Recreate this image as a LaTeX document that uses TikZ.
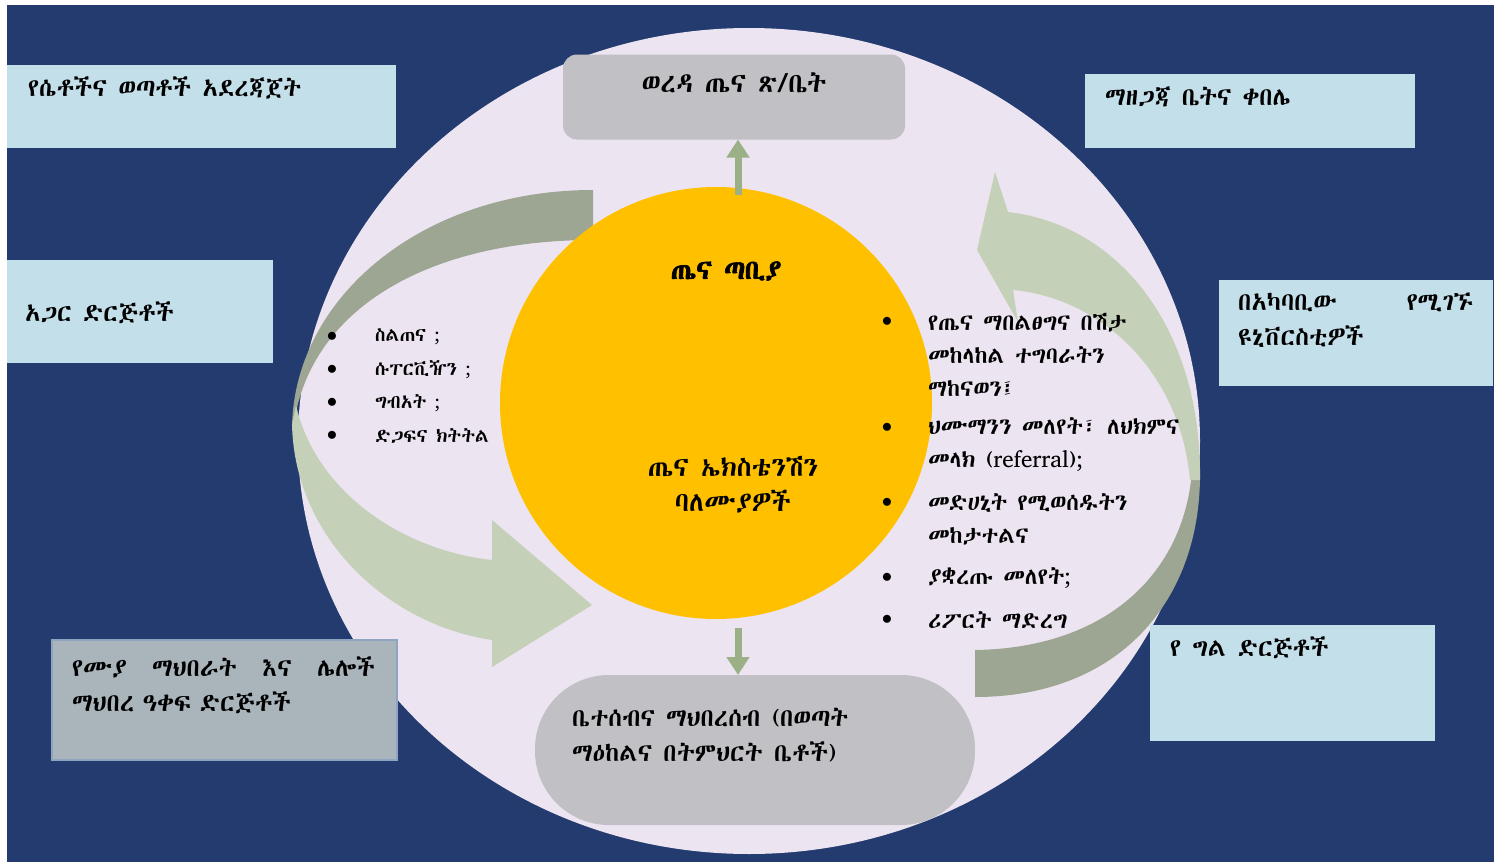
\documentclass[tikz,border=0pt]{standalone}
\usepackage{fontspec}
\IfFontExistsTF{Abyssinica SIL}{\setmainfont[AutoFakeBold=2.5]{Abyssinica SIL}}{%
  \IfFontExistsTF{FreeSerif}{\setmainfont[AutoFakeBold=2.5]{FreeSerif}}{%
    \IfFontExistsTF{Noto Sans Ethiopic}{\setmainfont[AutoFakeBold=2.5]{Noto Sans Ethiopic}}{\setmainfont{DejaVu Sans}}}}
\usetikzlibrary{
    positioning,
    arrows.meta
}
\definecolor{navy}{HTML}{233B6E}
\definecolor{lavender}{HTML}{ECE4F1}
\definecolor{amber}{HTML}{FFC000}
\definecolor{stone}{HTML}{C1C0C5}
\definecolor{skyblue}{HTML}{C3DFE9}
\definecolor{slate}{HTML}{A9B4BB}
\definecolor{slateline}{HTML}{8EA4C0}
\definecolor{sage}{HTML}{C4D0B7}
\definecolor{darksage}{HTML}{9DA692}
\definecolor{linkgreen}{HTML}{9CB088}
\tikzset{%
    info box/.style={%
        rectangle,
        fill=skyblue,
        inner sep = 0pt,
        outer sep = 0pt,
        anchor=north west
    },
    office/.style={%
        rectangle,
        fill=stone,
        rounded corners=14pt,
        inner sep = 0pt,
        outer sep = 0pt,
        minimum width=342pt,
        minimum height=85pt
    },
    box text/.style={%
        font=\fontsize{25}{35}\selectfont,
        align=left,
        inner sep = 0pt,
        anchor=west
    },
    item text/.style={%
        font=\fontsize{23}{33}\selectfont,
        align=left,
        inner sep = 0pt,
        anchor=west
    },
    dot/.style={%
        inner sep = 0pt,
        font=\fontsize{22}{22}\selectfont
    },
    front band/.style={%
        fill=sage
    },
    back band/.style={%
        fill=darksage
    },
    link/.style={%
        draw=linkgreen,
        line width=7pt,
        -{Triangle[length=18pt, width=22pt]}
    },
}
\begin{document}
\begin{tikzpicture}[x=1pt, y=-1pt]

    \useasboundingbox (0,0) rectangle (1497,862);
    \fill[navy] (7,5) rectangle (1494,862);
    \fill[lavender] (749,441) ellipse [x radius=451, y radius=413];

    \fill[back band] (593,190) .. controls (420,190) and (292,300) .. (292,430) -- (296,412) .. controls (320,300) and (440,240) .. (593,240) -- cycle;
    \fill[front band] (292,425) .. controls (295,540) and (390,625) .. (492,640) -- (492,667) -- (592,605) -- (492,520) -- (492,560) .. controls (400,550) and (315,490) .. (296,405) -- cycle;
    \fill[back band] (975,650) .. controls (1110,648) and (1185,570) .. (1192,470) -- (1200,475) .. controls (1200,600) and (1120,697) .. (975,697) -- cycle;
    \fill[front band] (1200,480) .. controls (1202,330) and (1120,225) .. (1008,212) -- (995,172) -- (977,250) -- (1018,322) -- (1013,290) .. controls (1100,298) and (1180,370) .. (1190,480) -- cycle;

    \node[circle, fill=amber, inner sep=0pt, minimum size=432pt] (hc) at (716,403) {};
    \node[office] (woreda) at (734,97) {};
    \node[office, rounded corners=74pt, minimum width=440pt, minimum height=150pt] (family) at (755,750) {};

    \node[info box, minimum width=389pt, minimum height=83pt] (youth) at (7,65) {};
    \node[info box, minimum width=266pt, minimum height=103pt] (partner) at (7,260) {};
    \node[info box, fill=slate, draw=slateline, line width=2pt, minimum width=345pt, minimum height=120pt] (civic) at (52,640) {};
    \node[info box, minimum width=330pt, minimum height=74pt] (kebele) at (1085,74) {};
    \node[info box, minimum width=274pt, minimum height=106pt] (univ) at (1219,280) {};
    \node[info box, minimum width=285pt, minimum height=116pt] (private) at (1150,625) {};

    \draw[link, shorten <=-8pt] ([xshift=4pt]hc.north -| woreda.south) -- ([xshift=4pt]woreda.south);
    \draw[link, shorten <=9pt] ([xshift=4pt]hc.south -| woreda.south) -- ([xshift=4pt]family.north -| woreda.south);

    \node[box text, anchor=center, font=\fontsize{27}{30}\selectfont] (woreda text) at (734,83) {ወረዳ ጤና ጽ/ቤት};
    \node[box text] (family text) at (572,735) {ቤተሰብና ማህበረሰብ  (በወጣት\\ማዕከልና በትምህርት ቤቶች)};
    \node[box text] (youth text) at (28,88) {የሴቶችና ወጣቶች አደረጃጀት};
    \node[box text] (partner text) at (25,313) {አጋር ድርጅቶች};
    \node[box text, text width=303pt] (civic text) at (72,685) {የሙያ\hfill ማህበራት\hfill እና\hfill ሌሎች\\ማህበረ ዓቀፍ ድርጅቶች};
    \node[box text] (kebele text) at (1105,97) {ማዘጋጃ ቤትና ቀበሌ};
    \node[box text, text width=235pt] (univ text) at (1238,320) {በአካባቢው\hfill የሚገኙ\\ዩኒቨርስቲዎች};
    \node[box text] (private text) at (1170,648) {የ ግል  ድርጅቶች};

    \node[box text, anchor=center, font=\fontsize{27}{30}\bfseries] (hc title) at (726,271) {ጤና  ጣቢያ};
    \node[box text, anchor=center, align=center, font=\fontsize{27}{35}\selectfont] (hc text) at (733,485) {ጤና ኤክስቴንሽን\\ባለሙያዎች};

    \foreach \task [count=\i] in {ስልጠና ;, ሱፐርቪዥን ;, ግብአት ;, ድጋፍና  ክትትል} {
        \node[dot] (left dot \i) at (332,304+33*\i) {$\bullet$};
        \node[item text, font=\fontsize{19}{22}\selectfont] (left task \i) at (375,304+33*\i) {\task};
    }

    \node[dot] (dot1) at (887,322) {$\bullet$};
    \node[item text] (task1) at (928,355) {የጤና ማበልፀግና በሽታ\\መከላከል ተግባራትን\\ማከናወን፤};
    \node[dot] (dot2) at (887,428) {$\bullet$};
    \node[item text] (task2) at (928,445) {ህሙማንን መለየት፣ ለህክምና\\መላክ (referral);};
    \node[dot] (dot3) at (887,503) {$\bullet$};
    \node[item text] (task3) at (928,519) {መድሀኒት  የሚወሰዱትን\\መከታተልና};
    \node[dot] (dot4) at (887,578) {$\bullet$};
    \node[item text] (task4) at (928,578) {ያቋረጡ መለየት;};
    \node[dot] (dot5) at (887,620) {$\bullet$};
    \node[item text] (task5) at (928,620) {ሪፖርት ማድረግ};
\end{tikzpicture}
\end{document}
